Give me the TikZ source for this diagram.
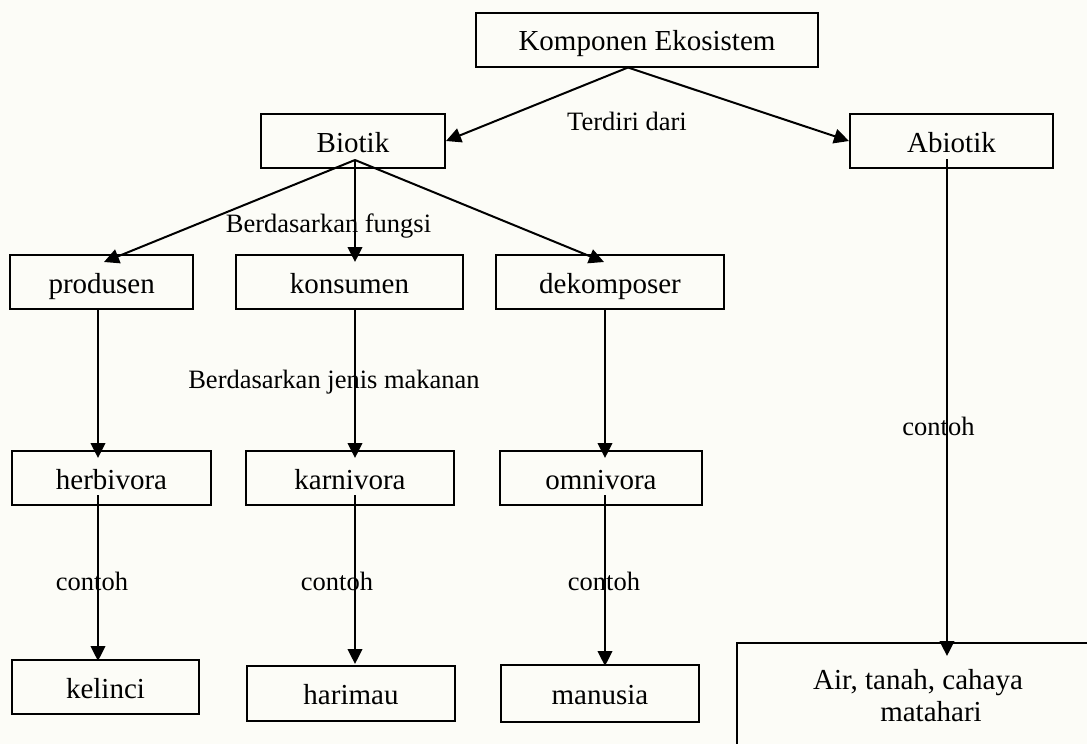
\documentclass[tikz,border=0pt]{standalone}
\usepackage{fontspec}
\setmainfont{Liberation Serif}
\usetikzlibrary{arrows.meta,calc}
\definecolor{paper}{RGB}{252,252,247}
\begin{document}
\begin{tikzpicture}[x=0.5pt,y=-0.5pt,
  box/.style={draw, line width=1pt, inner sep=0pt, text height=11pt, text depth=0pt,
    font=\fontsize{14.5}{16}\selectfont, minimum height=27pt},
  lbl/.style={inner sep=0pt, anchor=base, font=\fontsize{13.25}{15}\selectfont},
  arr/.style={line width=1pt, -{Triangle[length=7.5pt,width=7.3pt]}}]
\useasboundingbox (0,0) rectangle (1087,744);
\clip (0,0) rectangle (1087,744);
\fill[paper] (0,0) rectangle (1087,744);

% boxes
\node[box, minimum width=171pt] (komp) at (647,39.5) {Komponen Ekosistem};
\node[box, minimum width=92pt]  (bio)  at (353,141) {Biotik};
\node[box, minimum width=101.5pt] (abio) at (951.5,141) {Abiotik};
\node[box, minimum width=91.3pt] (prod) at (101.7,282) {produsen};
\node[box, minimum width=113.5pt] (kons) at (349.5,282) {konsumen};
\node[box, minimum width=114pt] (deko) at (610,282) {dekomposer};
\node[box, minimum width=99.5pt] (herb) at (111.5,478) {herbivora};
\node[box, minimum width=104pt] (karn) at (350,478) {karnivora};
\node[box, minimum width=100.75pt] (omni) at (601,478) {omnivora};
\node[box, minimum width=93.5pt] (kel)  at (105.5,687) {kelinci};
\node[box, minimum width=104pt, minimum height=27.5pt] (hari) at (351,693.5) {harimau};
\node[box, minimum width=99.25pt, minimum height=28.5pt] (manu) at (600,693.5) {manusia};
\node[draw, line width=1pt, inner sep=0pt, align=center, minimum width=188pt, minimum height=53pt,
  font=\fontsize{14.5}{16}\selectfont] (air) at (924.5,696)
  {Air, tanah, cahaya\hspace*{6.5pt}\\\hspace*{6.5pt}matahari};

% connectors
\coordinate (kapex) at ($(komp.south)+(-19,0)$);
\draw[arr] (kapex) -- (bio.east);
\draw[arr] (kapex) -- (abio.west);

\coordinate (bapex) at ($(bio.south)+(2,-9)$);
\draw[arr] (bapex) -- ($(prod.north)+(2.3,8)$);
\draw[arr] (bapex) -- ($(kons.north)+(5.5,8)$);
\draw[arr] (bapex) -- ($(deko.north)+(-6,8)$);

\draw[arr] ($(prod.south)+(-3.7,0)$) -- ($(herb.north)+(-13.5,8)$);
\draw[arr] ($(kons.south)+(5.5,0)$) -- ($(karn.north)+(5,8)$);
\draw[arr] ($(deko.south)+(-5,0)$) -- ($(omni.north)+(4,8)$);

\draw[arr] ($(herb.center)+(-13.5,17)$) -- ($(kel.north)+(-7.5,2)$);
\draw[arr] ($(karn.center)+(5,17)$) -- ($(hari.north)+(4,-1)$);
\draw[arr] ($(omni.center)+(4,17)$) -- ($(manu.north)+(5,2)$);
\draw[arr] ($(abio.center)+(-4.5,18)$) -- ($(air.north)+(22.5,14)$);

% connector labels
\node[lbl] (tdari) at (627,130) {Terdiri dari};
\node[lbl] (bfungsi) at (328.5,232) {Berdasarkan fungsi};
\node[lbl] (bjenis) at (334,388) {Berdasarkan jenis makanan};
\node[lbl] (c1) at (92,590) {contoh};
\node[lbl] (c2) at (337,590) {contoh};
\node[lbl] (c3) at (604,590) {contoh};
\node[lbl] (c4) at (938.5,435) {contoh};
\end{tikzpicture}
\end{document}
